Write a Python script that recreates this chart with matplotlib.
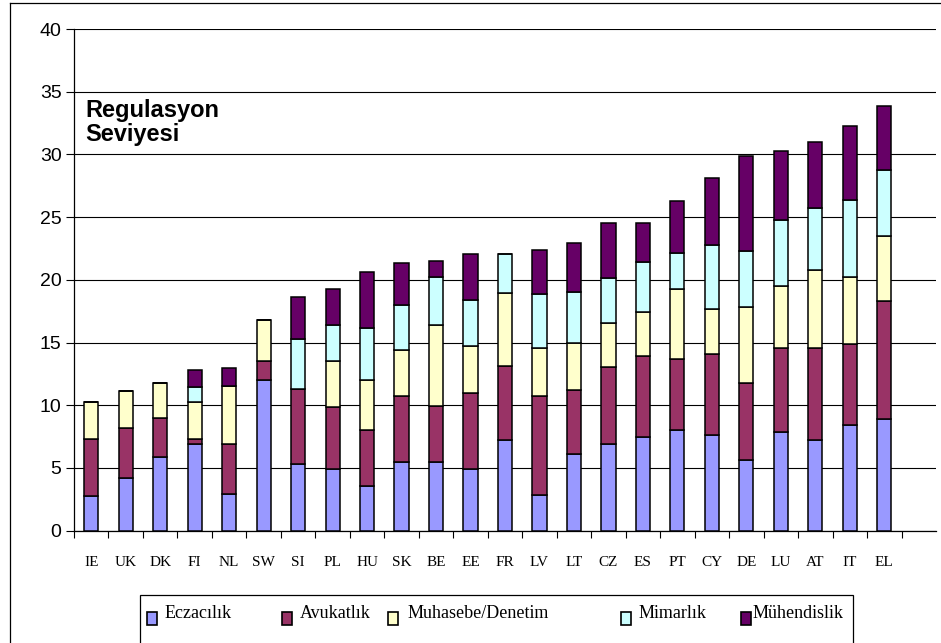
import matplotlib.pyplot as plt
from matplotlib.patches import Rectangle
from matplotlib.lines import Line2D
import numpy as np

# ulkeler ve meslek bazinda regulasyon puanlari
ulkeler = ["IE", "UK", "DK", "FI", "NL", "SW", "SI", "PL", "HU", "SK", "BE", "EE",
           "FR", "LV", "LT", "CZ", "ES", "PT", "CY", "DE", "LU", "AT", "IT", "EL"]

eczacilik = [2.75, 4.2, 5.85, 6.9, 2.95, 12.05, 5.3, 4.9, 3.6, 5.45, 5.45, 4.9,
             7.25, 2.85, 6.15, 6.9, 7.45, 8.0, 7.6, 5.6, 7.85, 7.25, 8.4, 8.9]
avukatlik = [4.55, 4.0, 3.1, 0.4, 4.0, 1.45, 6.0, 4.95, 4.4, 5.3, 4.5, 6.05,
             5.85, 7.9, 5.1, 6.15, 6.5, 5.65, 6.5, 6.2, 6.7, 7.3, 6.5, 9.45]
muhasebe = [2.95, 2.95, 2.8, 2.95, 4.55, 3.3, 0.0, 3.65, 4.0, 3.65, 6.45, 3.8,
            5.85, 3.8, 3.7, 3.5, 3.5, 5.6, 3.55, 6.0, 4.95, 6.2, 5.3, 5.15]
mimarlik = [0.0, 0.0, 0.0, 1.2, 0.0, 0.0, 4.0, 2.9, 4.2, 3.6, 3.8, 3.65,
            3.1, 4.35, 4.1, 3.6, 4.0, 2.9, 5.1, 4.5, 5.25, 5.0, 6.15, 5.25]
muhendislik = [0.0, 0.0, 0.0, 1.35, 1.45, 0.0, 3.3, 2.9, 4.4, 3.35, 1.3, 3.65,
               0.0, 3.5, 3.85, 4.35, 3.05, 4.1, 5.4, 7.6, 5.5, 5.25, 5.9, 5.15]

seriler = [
    ("Eczacılık", eczacilik, "#9999FF"),
    ("Avukatlık", avukatlik, "#993366"),
    ("Muhasebe/Denetim", muhasebe, "#FFFFCC"),
    ("Mimarlık", mimarlik, "#CCFFFF"),
    ("Mühendislik", muhendislik, "#660066"),
]

W, H = 941, 643
fig = plt.figure(figsize=(W / 100, H / 100), dpi=100)
ax = fig.add_axes([74 / W, 1 - 530.7 / H, (936 - 74) / W, (530.7 - 29) / H])

x = np.arange(len(ulkeler))
alt = np.zeros(len(ulkeler))
for ad, degerler, renk in seriler:
    ax.bar(x, degerler, width=0.41, bottom=alt, color=renk,
           edgecolor="black", linewidth=1.1, zorder=3)
    alt += np.array(degerler)

ax.set_xlim(-0.5, len(ulkeler) + 0.5)
ax.set_ylim(0, 40)
ax.set_yticks(range(0, 41, 5))
ax.grid(axis="y", color="black", linewidth=0.8, zorder=0)

ax.set_xticks(x)
ax.set_xticklabels(ulkeler, fontfamily="Liberation Serif", fontsize=11)
ax.set_xticks(np.arange(-0.5, len(ulkeler) + 0.5, 1), minor=True)
ax.tick_params(axis="x", which="major", length=0, pad=18.5)
ax.tick_params(axis="x", which="minor", length=5, width=0.8)
ax.tick_params(axis="y", length=6, width=0.8, pad=3)
for lbl in ax.get_yticklabels():
    lbl.set_fontfamily("Liberation Sans")
    lbl.set_fontsize(14)

for s in ["top", "right"]:
    ax.spines[s].set_visible(False)
ax.spines["left"].set_linewidth(0.9)
ax.spines["bottom"].set_linewidth(0.9)

fig.text(85 / W, 1 - 99 / H, "Regulasyon\nSeviyesi", fontfamily="Liberation Sans",
         fontsize=17, fontweight="bold", va="top", ha="left", linespacing=1.05)

# dis cerceve (sadece sol ve ust gorunuyor)
fig.add_artist(Line2D([10 / W, 10 / W], [0, 1 - 3 / H], color="black", linewidth=0.9))
fig.add_artist(Line2D([10 / W, 1], [1 - 3 / H, 1 - 3 / H], color="black", linewidth=0.9))

# lejant kutusu (alt kismi gorunmuyor)
fig.add_artist(Rectangle((140 / W, -0.05), (853 - 140) / W, 0.05 + 1 - 595 / H,
                         transform=fig.transFigure, facecolor="white",
                         edgecolor="black", linewidth=0.9))
lejant_kutu_x = [147, 282, 388, 621, 741]
lejant_yazi_x = [165, 300, 408, 639, 753]
for (ad, degerler, renk), px, tx in zip(seriler, lejant_kutu_x, lejant_yazi_x):
    fig.add_artist(Rectangle((px / W, 1 - 625 / H), 10 / W, 13 / H,
                             transform=fig.transFigure, facecolor=renk,
                             edgecolor="black", linewidth=1.2))
    fig.text(tx / W, 1 - 618.5 / H, ad, fontfamily="Liberation Serif",
             fontsize=13, va="baseline", ha="left")

plt.savefig("out.png", dpi=100)
